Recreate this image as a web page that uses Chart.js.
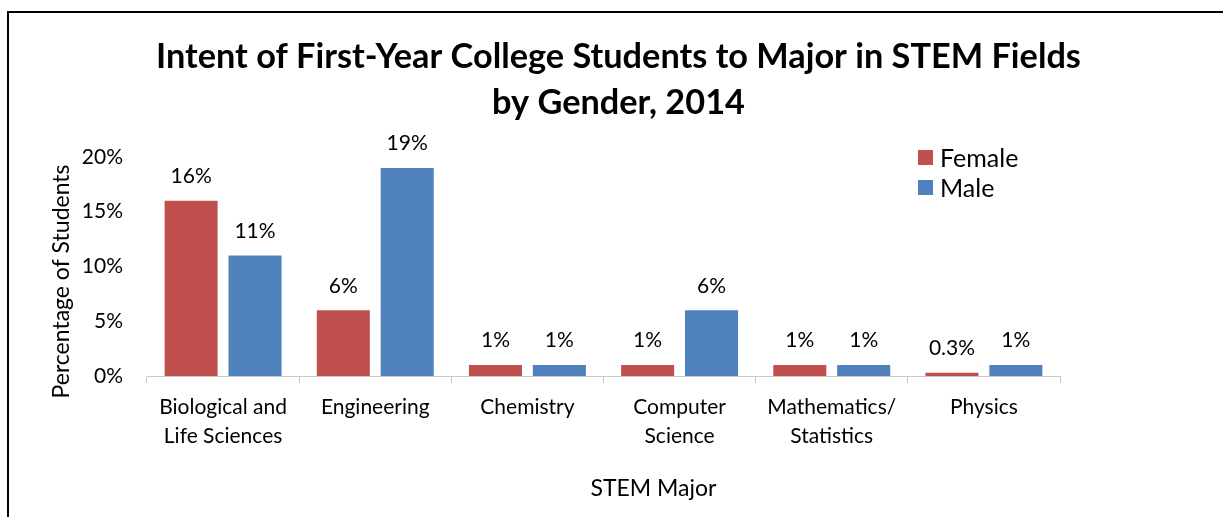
<!DOCTYPE html>
<html><head><meta charset="utf-8">
<script src="https://cdn.jsdelivr.net/npm/chart.js@4/dist/chart.umd.min.js"></script>
<style>
html,body{margin:0;padding:0;background:#fff;}
#wrap{position:relative;width:1223px;height:517px;overflow:hidden;}
#frame{position:absolute;left:7px;top:11px;width:1300px;height:600px;border:2px solid #000;box-sizing:border-box;}
canvas{position:absolute;left:0;top:0;}
</style></head>
<body><div id="wrap"><div id="frame"></div><canvas id="c" width="1223" height="517"></canvas></div>
<script>
const categories = [["Biological and","Life Sciences"],"Engineering","Chemistry",["Computer","Science"],["Mathematics/","Statistics"],"Physics"];
const femaleValues = [16, 6, 1, 1, 1, 0.3];
const maleValues = [11, 19, 1, 6, 1, 1];
const femaleLabels = ["16%","6%","1%","1%","1%","0.3%"];
const maleLabels = ["11%","19%","1%","6%","1%","1%"];
const yTicks = [0,5,10,15,20];
const xAxisTitle = "STEM Major";
const yAxisTitle = "Percentage of Students";

const FONT = "Lato, 'Open Sans', sans-serif";

const valueLabels = {
  id:'valueLabels',
  afterDatasetsDraw(chart){
    const ctx = chart.ctx;
    const lbls = [femaleLabels, maleLabels];
    ctx.save();
    ctx.font = "21px " + FONT;
    ctx.fillStyle = "#000";
    ctx.textAlign = "center";
    ctx.textBaseline = "middle";
    chart.data.datasets.forEach((ds,i)=>{
      chart.getDatasetMeta(i).data.forEach((bar,j)=>{
        ctx.fillText(lbls[i][j], bar.x, bar.y - 24.5);
      });
    });
    ctx.restore();
  }
};

const extras = {
  id:'extras',
  afterDraw(chart){
    const ctx = chart.ctx;
    const ca = chart.chartArea;
    ctx.save();
    // legend
    ctx.font = "25px " + FONT;
    ctx.textBaseline = "middle";
    ctx.textAlign = "left";
    chart.data.datasets.forEach((ds,i)=>{
      const y = 157.5 + i*30;
      ctx.fillStyle = ds.backgroundColor;
      ctx.fillRect(918, y-7.5, 15, 15);
      ctx.fillStyle = "#000";
      ctx.fillText(ds.label, 940, y+1);
    });
    // axis titles
    ctx.font = "23px " + FONT;
    ctx.textAlign = "center";
    ctx.fillStyle = "#000";
    ctx.fillText(xAxisTitle, ca.left + (ca.right-ca.left)/2 + 50, ca.bottom + 113);
    ctx.translate(62, ca.top + (ca.bottom-ca.top)/2 + 15);
    ctx.rotate(-Math.PI/2);
    ctx.fillText(yAxisTitle, 0, 0);
    ctx.restore();
  }
};

new Chart(document.getElementById('c'), {
  type:'bar',
  data:{
    labels: categories,
    datasets:[
      {label:'Female', data:femaleValues, backgroundColor:'#C0504D', borderWidth:0},
      {label:'Male', data:maleValues, backgroundColor:'#4F81BD', borderWidth:0}
    ]
  },
  options:{
    responsive:false,
    animation:false,
    layout:{padding:{left:20, right:6, top:34, bottom:12}},
    plugins:{
      legend:{display:false},
      tooltip:{enabled:false},
      title:{
        display:true,
        text:['Intent of First-Year College Students to Major in STEM Fields','by Gender, 2014'],
        font:{family:FONT, size:34.3, weight:'bold', lineHeight:1.34},
        color:'#000',
        padding:{top:0,bottom:31}
      }
    },
    datasets:{bar:{categoryPercentage:0.84, barPercentage:0.83}},
    scales:{
      x:{
        afterFit(scale){ scale.height = 129; },
        grid:{offset:true, drawOnChartArea:false, drawTicks:true, tickLength:7, color:'#C8C8C8', lineWidth:1},
        border:{display:true, color:'#C8C8C8', width:1},
        ticks:{color:'#000', font:{family:FONT, size:21, lineHeight:1.38}, padding:10, maxRotation:0, autoSkip:false}
      },
      y:{
        min:0, max:20,
        afterBuildTicks(scale){ scale.ticks = yTicks.map(v=>({value:v})); },
        afterFit(scale){ scale.width = 127; },
        grid:{display:false, drawTicks:false},
        border:{display:false},
        ticks:{color:'#000', font:{family:FONT, size:21}, padding:24, callback:v=>v+'%'}
      },
      y2:{
        position:'right',
        min:0, max:20,
        afterFit(scale){ scale.width = 157; },
        grid:{display:false, drawTicks:false},
        border:{display:false},
        ticks:{display:false}
      }
    }
  },
  plugins:[valueLabels, extras]
});
</script></body></html>
